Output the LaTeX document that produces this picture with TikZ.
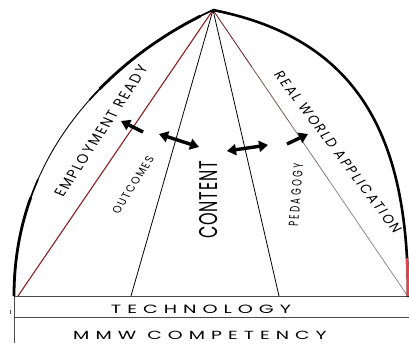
\documentclass[tikz,border=0pt]{standalone}
\usepackage{fontspec}
\setmainfont{Poppins}
\usetikzlibrary{arrows.meta,calc}
\definecolor{archred}{HTML}{8B1E22}
\definecolor{tipred}{HTML}{E2454B}
\begin{document}
\begin{tikzpicture}[x=1pt,y=-1pt,
  ray/.style={line width=0.8pt,black},
  rule/.style={line width=1pt,black!70},
  archline/.style={line width=2.6pt,black,line cap=round},
  onearrow/.style={line width=3.4pt,-{Triangle[length=9pt,width=11pt]}},
  twoarrow/.style={line width=3.4pt,{Triangle[length=9pt,width=11pt]}-{Triangle[length=9pt,width=11pt]}},
  lbl/.style={inner sep=0pt,xscale=1.6},
  slantlbl/.style={inner sep=0pt,xscale=1.25},
]
\useasboundingbox (0,0) rectangle (409,343);

% key points of the arch
\coordinate (apex) at (213,10);
\coordinate (bl) at (14,296);
\coordinate (br) at (408,296);
\coordinate (redfoot) at (18,296);
\coordinate (outfoot) at (131,296);
\coordinate (pedfoot) at (279,296);
\coordinate (rwfoot) at (407,295);
\coordinate (rr) at (409,296);
\coordinate (ml) at (14,317);
\coordinate (mr) at (409,317);
\coordinate (bot) at (14,343);

% base rules
\draw[rule] (bl) -- (rr);
\draw[rule] (ml) -- (mr);
\draw[rule] (bl) -- (bot);
\draw[line width=0.8pt,black!70] (10,310) -- (10,314);

% rays from the apex
\draw[line width=1.1pt,archred] (apex) -- (redfoot);
\draw[ray] (apex) -- (outfoot);
\draw[ray] (apex) -- (pedfoot);
\foreach \ta/\tb/\col in {0/0.2/archred!75!black,0.2/0.4/archred!45!black!70,0.4/0.6/archred!20!black!55,0.6/1/black!45}
  \draw[line width=0.8pt,\col] ($(apex)!\ta!(rwfoot)$) -- ($(apex)!\tb!(rwfoot)$);

% left side of the arch (thin body, heavier ends)
\def\leftarc{(bl) .. controls (14,150) and (115,55) .. (apex)}
\draw[line width=0.9pt] \leftarc;
\draw[line width=1.7pt,dash pattern=on 120pt off 95pt on 400pt] \leftarc;
\draw[line width=2.8pt,dash pattern=on 100pt off 130pt on 125pt off 400pt] \leftarc;

% right side of the arch with its red foot
\draw[archline] (apex) .. controls (365,40) and (408,145) .. (br);
\draw[line width=2.6pt,tipred,dash pattern=on 38pt off 600pt] (br) .. controls (408,145) and (365,40) .. (apex);

% labels
\node[slantlbl,rotate=62.2,font=\fontsize{12.5}{12.5}\selectfont\addfontfeatures{LetterSpace=14}] (emp) at (101,131) {EMPLOYMENT READY};
\node[slantlbl,rotate=62.7,font=\fontsize{9.5}{9.5}\selectfont\addfontfeatures{LetterSpace=15}] (out) at (133,185) {OUTCOMES};
\node[lbl,rotate=90,font=\fontsize{16}{16}\selectfont\addfontfeatures{LetterSpace=5}] (con) at (209,200) {CONTENT};
\node[lbl,rotate=87,font=\fontsize{8.5}{8.5}\selectfont\addfontfeatures{LetterSpace=30}] (ped) at (296,195) {PEDAGOGY};
\node[slantlbl,rotate=-58.9,font=\fontsize{12}{12}\selectfont\addfontfeatures{LetterSpace=16}] (rw) at (338,152) {REAL WORLD APPLICATION};
\node[lbl,font=\fontsize{12}{12}\selectfont\addfontfeatures{LetterSpace=31}] (tech) at (201,309.5) {TECHNOLOGY};
\node[lbl,font=\fontsize{11.8}{11.8}\selectfont\addfontfeatures{LetterSpace=32}] (mmw) at (200,335.5) {MMW COMPETENCY};

% arrows
\coordinate (a1t) at (143,132); \coordinate (a1h) at (121,121);
\coordinate (a2l) at (159,134); \coordinate (a2r) at (199,147);
\coordinate (a3l) at (227,151); \coordinate (a3r) at (268,145);
\coordinate (a4t) at (287,144); \coordinate (a4h) at (308,134);
\draw[onearrow] (a1t) -- (a1h);
\draw[twoarrow] (a2l) -- (a2r);
\draw[twoarrow] (a3l) -- (a3r);
\draw[onearrow] (a4t) -- (a4h);
\end{tikzpicture}
\end{document}
